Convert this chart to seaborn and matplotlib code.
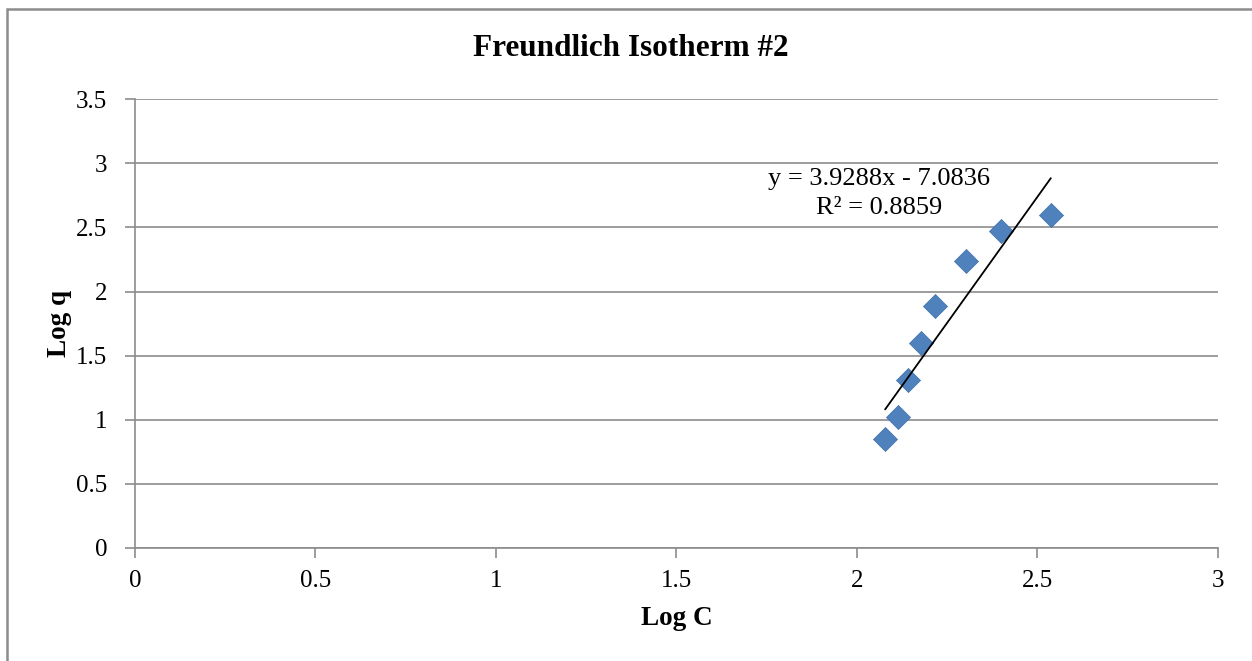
import numpy as np
import pandas as pd
import matplotlib
matplotlib.use("Agg")
import matplotlib.pyplot as plt
import seaborn as sns

# data
log_c = [2.078, 2.113, 2.142, 2.177, 2.216, 2.303, 2.400, 2.537]
log_q = [0.852, 1.020, 1.309, 1.600, 1.886, 2.237, 2.470, 2.596]
slope, intercept = 3.9288, -7.0836
eq_text = "y = 3.9288x - 7.0836"
r2_text = "R² = 0.8859"
x_ticks = ["0", "0.5", "1", "1.5", "2", "2.5", "3"]
y_ticks = ["0", "0.5", "1", "1.5", "2", "2.5", "3", "3.5"]

sns.set_theme(style="white")
plt.rcParams['font.family'] = ['Liberation Serif', 'DejaVu Serif']
plt.rcParams['text.color'] = 'black'
plt.rcParams['axes.labelcolor'] = 'black'

df = pd.DataFrame({"Log C": log_c, "Log q": log_q})

fig = plt.figure(figsize=(12.52, 6.61), dpi=100)
ax = fig.add_axes([0.1078, 0.171, 0.865, 0.679])

ax.set_axisbelow(True)
ax.yaxis.grid(True, color="#8c8c8c", linewidth=1.2)
ax.xaxis.grid(False)

sns.scatterplot(data=df, x="Log C", y="Log q", ax=ax, marker="D", s=150,
                color="#4f81bd", edgecolor="#3d6fa8", linewidth=0.5, zorder=3)

# linear trendline over the data range
xs = np.array([min(log_c), max(log_c)])
ax.plot(xs, slope * xs + intercept, color="black", linewidth=1.3, zorder=4)

ax.annotate(eq_text, xy=(879, 661 - 179), xycoords="figure pixels",
            ha="center", va="center", fontsize=19)
ax.annotate(r2_text, xy=(879, 661 - 208), xycoords="figure pixels",
            ha="center", va="center", fontsize=19)

ax.set_xlim(0, 3)
ax.set_ylim(0, 3.5)
ax.set_xticks(np.arange(0, 3.01, 0.5))
ax.set_yticks(np.arange(0, 3.51, 0.5))
ax.set_xticklabels(x_ticks)
ax.set_yticklabels(y_ticks)
ax.tick_params(axis="both", labelsize=18, colors="black", length=7,
               width=1.2, direction="out", color="#8c8c8c")
ax.tick_params(axis="x", pad=9)
ax.tick_params(axis="y", pad=13)
ax.tick_params(bottom=True, left=True)

for side in ["top", "right"]:
    ax.spines[side].set_visible(False)
for side in ["left", "bottom"]:
    ax.spines[side].set_color("#8c8c8c")
    ax.spines[side].set_linewidth(1.2)

ax.set_xlabel("Log C", fontsize=19.5, fontweight="bold", labelpad=10)
ax.set_ylabel("Log q", fontsize=19.5, fontweight="bold", va="center")
ax.yaxis.set_label_coords((60 - 135) / 1083, 0.5)
fig.text(631 / 1252, 1 - 49 / 661, "Freundlich Isotherm #2", ha="center",
         va="center", fontsize=22.5, fontweight="bold")

border = plt.Rectangle((6.5 / 1252, -0.05), 1.1, 1.05 - 9 / 661,
                       transform=fig.transFigure, fill=False,
                       edgecolor="#8c8c8c", linewidth=1.8)
fig.patches.append(border)

fig.savefig("out.png", dpi=100)
